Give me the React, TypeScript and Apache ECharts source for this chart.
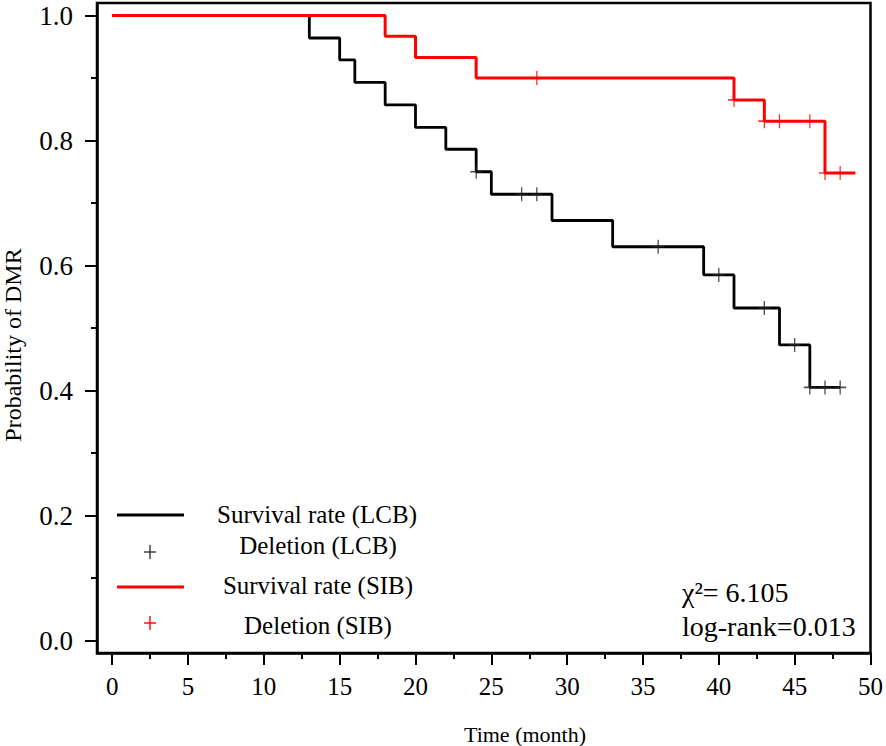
import React, { useEffect, useRef } from "react";
import * as echarts from "echarts";

// LCB group (black): step curve, time in months and survival probability after each event
const lcbTime = [0, 13, 15, 16, 18, 20, 22, 24, 25, 29, 33, 39, 41, 44, 46, 48];
const lcbSurv = [1.0, 0.964, 0.929, 0.893, 0.857, 0.821, 0.786, 0.75, 0.714, 0.672, 0.63, 0.585, 0.532, 0.473, 0.405, 0.405];
// LCB censored (deletion) marks
const lcbCensTime = [24, 27, 28, 36, 40, 43, 45, 46, 47, 48];
const lcbCensSurv = [0.75, 0.714, 0.714, 0.63, 0.585, 0.532, 0.473, 0.405, 0.405, 0.405];

// SIB group (red)
const sibTime = [0, 18, 20, 24, 41, 43, 47, 49];
const sibSurv = [1.0, 0.967, 0.933, 0.9, 0.865, 0.831, 0.748, 0.748];
const sibCensTime = [28, 41, 43, 44, 46, 47, 48];
const sibCensSurv = [0.9, 0.865, 0.831, 0.831, 0.831, 0.748, 0.748];

// axis ticks
const xMajorTicks = [0, 5, 10, 15, 20, 25, 30, 35, 40, 45, 50];
const xMinorTicks = [2.5, 7.5, 12.5, 17.5, 22.5, 27.5, 32.5, 37.5, 42.5, 47.5];
const yMajorTicks = [0, 0.2, 0.4, 0.6, 0.8, 1.0];
const yMinorTicks = [0.1, 0.3, 0.5, 0.7, 0.9];

const xTitle = "Time (month)";
const yTitle = "Probability of DMR";
const legendLabels = ["Survival rate (LCB)", "Deletion (LCB)", "Survival rate (SIB)", "Deletion (SIB)"];
const statLines = ["χ²= 6.105", "log-rank=0.013"];

const FONT = "Liberation Serif";
const BLACK = "#000000";
const RED = "#ff0000";

const zip = (a: number[], b: number[]) => a.map((v, i) => [v, b[i]]);

const PLUS = "path://M6,0L6,14M0,7L12,7";

export default function App() {
  const ref = useRef<HTMLDivElement>(null);
  useEffect(() => {
    if (!ref.current) return;
    const chart = echarts.init(ref.current, undefined, { renderer: "svg" });

    const legendText = (text: string, x: number, y: number) => ({
      type: "text",
      style: { text, x, y, fill: BLACK, fontSize: 25, fontFamily: FONT, align: "center", verticalAlign: "middle" },
    });
    const plus = (cx: number, cy: number, color: string) => ({
      type: "group",
      children: [
        { type: "line", shape: { x1: cx, y1: cy - 7, x2: cx, y2: cy + 7 }, style: { stroke: color, lineWidth: 1.4 } },
        { type: "line", shape: { x1: cx - 6, y1: cy, x2: cx + 6, y2: cy }, style: { stroke: color, lineWidth: 1.4 } },
      ],
    });

    const tickLabel = (size: number) => ({
      show: true,
      fontFamily: FONT,
      fontSize: size,
      color: BLACK,
    });

    chart.setOption({
      animation: false,
      backgroundColor: "#ffffff",
      textStyle: { fontFamily: FONT, color: BLACK },
      grid: {
        left: 97,
        top: 3,
        width: 775,
        height: 650,
        show: true,
        borderColor: BLACK,
        borderWidth: 2.5,
        containLabel: false,
      },
      xAxis: [
        {
          type: "value",
          min: -1,
          max: 50,
          position: "bottom",
          splitLine: { show: false },
          axisLine: { show: true, onZero: false, lineStyle: { color: BLACK, width: 2.5 } },
          axisTick: { show: true, customValues: xMajorTicks, length: 12, inside: false, lineStyle: { color: BLACK, width: 2 } },
          axisLabel: { ...tickLabel(25), customValues: xMajorTicks, margin: 21 },
        },
        {
          type: "value",
          min: -1,
          max: 50,
          position: "bottom",
          splitLine: { show: false },
          axisLine: { show: false, onZero: false },
          axisTick: { show: true, customValues: xMinorTicks, length: 6, inside: false, lineStyle: { color: BLACK, width: 2 } },
          axisLabel: { show: false },
        },
      ],
      yAxis: [
        {
          type: "value",
          min: -0.02,
          max: 1.02,
          position: "left",
          splitLine: { show: false },
          axisLine: { show: true, onZero: false, lineStyle: { color: BLACK, width: 2.5 } },
          axisTick: { show: true, customValues: yMajorTicks, length: 12, inside: false, lineStyle: { color: BLACK, width: 2 } },
          axisLabel: { ...tickLabel(27), customValues: yMajorTicks, margin: 24, formatter: (v: number) => v.toFixed(1) },
        },
        {
          type: "value",
          min: -0.02,
          max: 1.02,
          position: "left",
          splitLine: { show: false },
          axisLine: { show: false, onZero: false },
          axisTick: { show: true, customValues: yMinorTicks, length: 6, inside: false, lineStyle: { color: BLACK, width: 2 } },
          axisLabel: { show: false },
        },
      ],
      series: [
        {
          name: legendLabels[0],
          type: "line",
          step: "end",
          data: zip(lcbTime, lcbSurv),
          showSymbol: false,
          symbol: "none",
          lineStyle: { color: BLACK, width: 2.8 },
          z: 2,
        },
        {
          name: legendLabels[1],
          type: "scatter",
          data: zip(lcbCensTime, lcbCensSurv),
          symbol: PLUS,
          symbolSize: [12, 14],
          itemStyle: { color: "rgba(0,0,0,0)", borderColor: "#222", borderWidth: 1.4 },
          z: 3,
        },
        {
          name: legendLabels[2],
          type: "line",
          step: "end",
          data: zip(sibTime, sibSurv),
          showSymbol: false,
          symbol: "none",
          lineStyle: { color: RED, width: 3 },
          z: 4,
        },
        {
          name: legendLabels[3],
          type: "scatter",
          data: zip(sibCensTime, sibCensSurv),
          symbol: PLUS,
          symbolSize: [12, 14],
          itemStyle: { color: "rgba(0,0,0,0)", borderColor: RED, borderWidth: 1.4 },
          z: 5,
        },
      ],
      graphic: [
        {
          type: "text",
          x: 13,
          y: 345,
          rotation: Math.PI / 2,
          style: { text: yTitle, x: 0, y: 0, fill: BLACK, fontSize: 24, fontFamily: FONT, align: "center", verticalAlign: "middle" },
        },
        {
          type: "text",
          style: { text: xTitle, x: 525, y: 734, fill: BLACK, fontSize: 22, fontFamily: FONT, align: "center", verticalAlign: "middle" },
        },
        { type: "line", shape: { x1: 117, y1: 515, x2: 184, y2: 515 }, style: { stroke: BLACK, lineWidth: 2.8 } },
        legendText(legendLabels[0], 317, 514),
        plus(150, 552, "#333"),
        legendText(legendLabels[1], 318, 545),
        { type: "line", shape: { x1: 117, y1: 587, x2: 184, y2: 587 }, style: { stroke: RED, lineWidth: 3 } },
        legendText(legendLabels[2], 318, 585),
        plus(150, 623, RED),
        legendText(legendLabels[3], 318, 625),
        {
          type: "text",
          style: { text: statLines[0], x: 682, y: 592, fill: BLACK, fontSize: 28, fontFamily: FONT, align: "left", verticalAlign: "middle" },
        },
        {
          type: "text",
          style: { text: statLines[1], x: 682, y: 626, fill: BLACK, fontSize: 28, fontFamily: FONT, align: "left", verticalAlign: "middle" },
        },
      ],
    });
    return () => chart.dispose();
  }, []);
  return (
    <div
      ref={ref}
      style={{ position: "fixed", left: 0, top: 0, width: 886, height: 746, background: "#fff" }}
    />
  );
}
